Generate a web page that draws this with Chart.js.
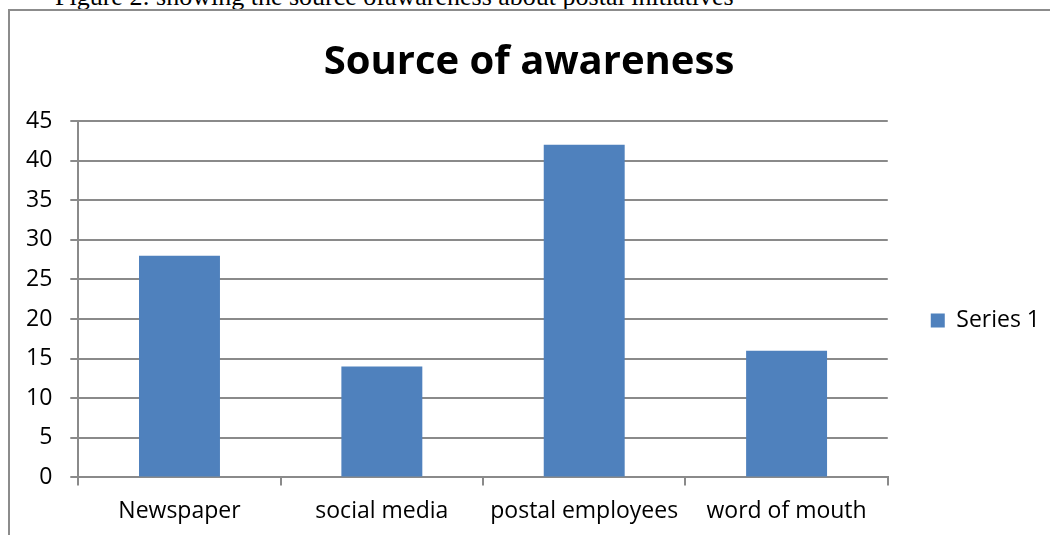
<!DOCTYPE html>
<html>
<head>
<meta charset="utf-8">
<script src="https://cdn.jsdelivr.net/npm/chart.js@4.4.0/dist/chart.umd.min.js"></script>
<style>
  body { margin: 0; background: #fff; }
  #wrap { position: relative; width: 1050px; height: 535px; overflow: hidden; }
  #caption { position: absolute; left: 55px; top: -18px; font: 26px "Liberation Serif", serif; color: #000; white-space: nowrap; }
  #frame { position: absolute; left: 8px; top: 9px; width: 1100px; height: 600px; border: 2px solid #8c8c8c; }
  #c { position: absolute; left: 0; top: 0; }
</style>
</head>
<body>
<div id="wrap">
  <div id="caption">Figure 2: showing the source ofawareness about postal initiatives</div>
  <div id="frame"></div>
  <canvas id="c" width="1050" height="535"></canvas>
</div>
<script>
const categories = ['Newspaper', 'social media', 'postal employees', 'word of mouth'];
const series1 = [28, 14, 42, 16];
const yTicks = [0, 5, 10, 15, 20, 25, 30, 35, 40, 45];

const font = 'Open Sans, Noto Sans, sans-serif';
const gridColor = '#8a8a8a';

new Chart(document.getElementById('c').getContext('2d'), {
  type: 'bar',
  data: {
    labels: categories,
    datasets: [{
      label: 'Series 1',
      data: series1,
      backgroundColor: '#4f81bd',
      borderWidth: 0,
      barPercentage: 0.4,
      categoryPercentage: 1
    }]
  },
  options: {
    responsive: false,
    animation: false,
    layout: { padding: { left: 8, right: 0, top: 30, bottom: -2 } },
    plugins: {
      title: {
        display: true,
        text: 'Source of awareness',
        color: '#000',
        font: { family: font, size: 40, weight: 'bold' },
        padding: { top: 9, bottom: 34 }
      },
      legend: {
        position: 'right',
        title: { display: true, text: ' ', font: { size: 10 }, padding: { top: 62, bottom: 0 } },
        labels: {
          boxWidth: 14,
          boxHeight: 14,
          color: '#000',
          font: { family: font, size: 23 },
          padding: 43
        }
      },
      tooltip: { enabled: false }
    },
    scales: {
      x: {
        grid: { drawOnChartArea: false, offset: true, tickLength: 8, color: gridColor, lineWidth: 2 },
        border: { color: gridColor, width: 2 },
        ticks: { color: '#000', font: { family: font, size: 23, lineHeight: 0.85 }, padding: 16, maxRotation: 0 }
      },
      y: {
        min: 0,
        max: 45,
        afterBuildTicks: axis => { axis.ticks = yTicks.map(v => ({ value: v })); },
        grid: { color: gridColor, lineWidth: 2, tickLength: 8 },
        border: { color: gridColor, width: 2 },
        ticks: { color: '#000', font: { family: font, size: 23 }, padding: 18 }
      }
    }
  }
});
</script>
</body>
</html>
